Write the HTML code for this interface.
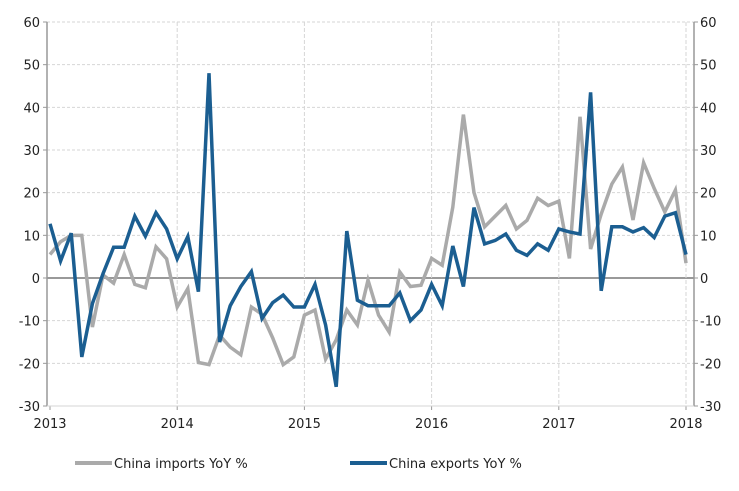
<!DOCTYPE html>
<html><head><meta charset="utf-8"><style>
body{margin:0;background:#fff;font-family:"Liberation Sans",sans-serif;}
svg text{font-family:"DejaVu Sans","Liberation Sans",sans-serif;font-size:13px;fill:#222;}
</style></head><body>
<svg id="chart" width="739" height="486"></svg>
<script>
const months = 61; // Jan 2013 .. Jan 2018
const yearLabels = ["2013","2014","2015","2016","2017","2018"];
const yTicks = [-30,-20,-10,0,10,20,30,40,50,60];
const imports = [5.5,8.5,10,10,-11.5,0.7,-1.2,5.5,-1.5,-2.3,7.3,4.5,
 -6.8,-2.5,-19.8,-20.3,-13.4,-16.2,-18,-6.8,-8.5,-14,-20.3,-18.5,
 -8.7,-7.5,-19,-14.5,-7.5,-11,-0.5,-8.7,-12.7,1.4,-2,-1.7,
 4.6,3,16.6,38.3,20,12,14.5,17,11.5,13.5,18.7,17,
 18,4.6,37.8,6.8,15,22,26,13.6,27,21,15.5,20.6,3.5];
const exports_ = [12.7,4,10.5,-18.5,-6,1,7.2,7.2,14.5,9.8,15.3,11.5,
 4.5,9.7,-3.2,48,-15,-6.5,-2,1.5,-9.5,-5.8,-4,-6.8,
 -6.8,-1.5,-11,-25.5,11,-5.2,-6.5,-6.5,-6.5,-3.5,-10,-7.5,
 -1.5,-6.5,7.5,-2,16.5,8,8.8,10.3,6.5,5.3,8,6.5,
 11.5,10.8,10.3,43.5,-3,12,12,10.8,11.8,9.5,14.5,15.3,5.5];
const svg=document.getElementById('chart');
const NS="http://www.w3.org/2000/svg";
const x0=50,x1=686,yTop=22,yBot=406,vMin=-30,vMax=60;
const X=i=>x0+(x1-x0)*i/(months-1);
const Y=v=>yBot-(v-vMin)/(vMax-vMin)*(yBot-yTop);
function el(t,a,p){const e=document.createElementNS(NS,t);for(const k in a)e.setAttribute(k,a[k]);(p||svg).appendChild(e);return e;}
// horizontal grid
yTicks.forEach(v=>{
 const g=el('line',{x1:47,x2:694,y1:Y(v),y2:Y(v),stroke:v===0?'#999':'#d6d6d6','stroke-width':v===0?2:1,'stroke-dasharray':v===0?'':'3,2'});
 
 
 const l=el('text',{x:40,y:Y(v)+5,'text-anchor':'end'});l.textContent=v;
 
 
 const r=el('text',{x:700,y:Y(v)+5,'text-anchor':'start'});r.textContent=v;
 
 
 el('line',{x1:43,x2:47,y1:Y(v),y2:Y(v),stroke:'#999'});
 el('line',{x1:694,x2:698,y1:Y(v),y2:Y(v),stroke:'#999'});
});
// vertical grid and x labels
yearLabels.forEach((lab,k)=>{
 const x=X(k*12);
 if(k>0){const g=el('line',{x1:x,x2:x,y1:yTop,y2:yBot,stroke:'#d6d6d6','stroke-dasharray':'4,2'});
 
 }
 el('line',{x1:x,x2:x,y1:yBot,y2:yBot+4,stroke:'#999'});
 const t=el('text',{x:x,y:428,'text-anchor':'middle'});t.textContent=lab;
 
 
});
const la=el('line',{x1:47,x2:47,y1:yTop,y2:yBot,stroke:'#999','stroke-width':1.5});


const ra=el('line',{x1:694,x2:694,y1:yTop,y2:yBot,stroke:'#999','stroke-width':1.5});


const ba=el('line',{x1:47,x2:694,y1:yBot,y2:yBot,stroke:'#d6d6d6'});


function series(d,c,name){
 const p=el('polyline',{points:d.map((v,i)=>X(i)+','+Y(v)).join(' '),fill:'none',stroke:c,'stroke-width':3.5,'stroke-linejoin':'miter'});
 
 
}
series(imports,'#aaaaaa','imports-line');
series(exports_,'#1b5e91','exports-line');
// legend
const l1=el('line',{x1:75,x2:112,y1:463,y2:463,stroke:'#aaaaaa','stroke-width':4});


const t1=el('text',{x:114,y:468});t1.textContent='China imports YoY %';


const l2=el('line',{x1:350,x2:387,y1:463,y2:463,stroke:'#1b5e91','stroke-width':4});


const t2=el('text',{x:389,y:468});t2.textContent='China exports YoY %';


</script>
</body></html>
